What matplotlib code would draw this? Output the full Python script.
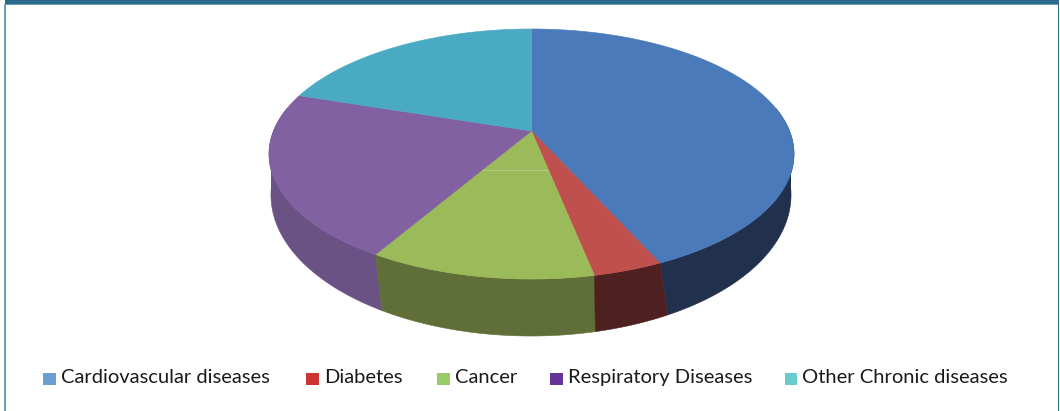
import numpy as np
import matplotlib
matplotlib.use("Agg")
import matplotlib.pyplot as plt
from matplotlib.patches import Polygon, Rectangle

plt.rcParams['font.family'] = ['Lato', 'DejaVu Sans']

# Data (share of the pie, %)
categories = ["Cardiovascular diseases", "Diabetes", "Cancer", "Respiratory Diseases", "Other Chronic diseases"]
values = [43.2, 3.6, 11.7, 21.5, 20.0]

top_colors = ["#4a7aba", "#c0504e", "#9bba59", "#8261a3", "#4aa9c3"]
side_colors = ["#20304d", "#4f2020", "#606f37", "#6a5384", "#2a6a80"]
legend_colors = ["#6a9fd2", "#cc3333", "#99cc66", "#663399", "#66cccc"]
legend_x = [43, 306, 437, 550, 784.5]

W, H = 1060, 411
fig = plt.figure(figsize=(W / 100, H / 100), dpi=100)
ax = fig.add_axes([0, 0, 1, 1])
ax.set_xlim(0, W)
ax.set_ylim(H, 0)
ax.axis("off")


def project(theta, cx, cy, a, b, k):
    # theta clockwise from 12 o'clock, perspective squeezes the back of the disc
    u = np.sin(theta)
    v = np.cos(theta)
    w = 1 + k * v
    return cx + a * u / w, cy - b * v / w


top = dict(cx=531.5, cy=131, a=258, b=120.8, k=0.184)
bottom = dict(cx=531, cy=169.1, a=255.6, b=136.2, k=0.184)
# how far the lower end of each slice edge slides round (degrees)
edge_shift = np.radians([-1.4, -2.0, -0.4, -1.3, -1.4, -1.4])

edges = np.radians(np.concatenate([[0], np.cumsum(values)]) * 3.6)

# the near-vertical bits of wall at both ends of the pie
ax.add_patch(Polygon([(271, 168), (271, 195), (295, 195), (295, 168)], fc=side_colors[3], ec="none"))
ax.add_patch(Polygon([(790.5, 168), (790.5, 195), (770, 195), (770, 168)], fc=side_colors[0], ec="none"))

# side walls first, back to front
for i in [4, 3, 0, 2, 1]:
    t = np.linspace(edges[i], edges[i + 1], 200)
    tb = t + np.linspace(edge_shift[i], edge_shift[i + 1], 200)
    keep = np.cos(t) < 0.2
    if keep.sum() < 2:
        continue
    xt, yt = project(t[keep], **top)
    xb, yb = project(tb[keep], **bottom)
    pts = np.column_stack([np.r_[xt, xb[::-1]], np.r_[yt, yb[::-1]]])
    ax.add_patch(Polygon(pts, closed=True, fc=side_colors[i], ec=side_colors[i], lw=0.4))

# top face
for i in range(5):
    t = np.linspace(edges[i], edges[i + 1], 200)
    xt, yt = project(t, **top)
    pts = np.column_stack([np.r_[top["cx"], xt], np.r_[top["cy"], yt]])
    ax.add_patch(Polygon(pts, closed=True, fc=top_colors[i], ec=top_colors[i], lw=0.4))

# faint seam across the green slice
ax.plot([482, 548], [170, 170], color="#b5cc85", lw=0.7)

# frame
ax.add_patch(Rectangle((5, 0), 1053, 4, fc="#2a6a8f", ec="none"))
ax.add_patch(Rectangle((5, 4), 1053, 1, fc="#6a9fba", ec="none"))
ax.add_patch(Rectangle((4, 4), 2, H - 4, fc="#6a9fba", ec="none"))
ax.add_patch(Rectangle((1057.5, 0), 1.5, H, fc="#2a6a8f", ec="none"))

# legend
for name, col, x in zip(categories, legend_colors, legend_x):
    ax.add_patch(Rectangle((x, 373), 12.5, 12, fc=col, ec="none"))
    ax.text(x + 18, 377, name, fontsize=14.5, color="#1a1a1a", va="center", ha="left")

fig.savefig("out.png", dpi=100)
